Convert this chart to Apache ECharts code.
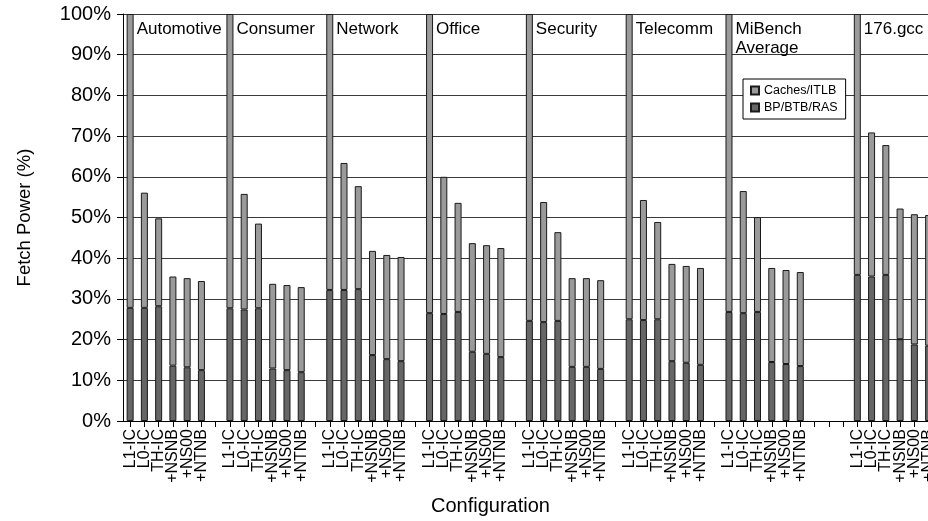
<!DOCTYPE html>
<html>
<head>
<meta charset="utf-8">
<title>Fetch Power by Configuration</title>
<script src="https://cdn.jsdelivr.net/npm/echarts@6/dist/echarts.min.js"></script>
<style>
  html, body { margin: 0; padding: 0; background: #fff; }
  #chart { width: 928px; height: 521px; }
</style>
</head>
<body>
<div id="chart"></div>
<script>
// Benchmark groups and the fetch configurations measured within each one
const groupNames = ['Automotive', 'Consumer', 'Network', 'Office', 'Security', 'Telecomm', 'MiBench\nAverage', '176.gcc'];
const configs = ['L1-IC', 'L0-IC', 'TH-IC', '+NSNB', '+NS00', '+NTNB'];
// empty category slots following each group
const gapsAfter = [1, 1, 1, 1, 1, 1, 3, 1];

// BP/BTB/RAS share of fetch power (%), one row per group
const bpBtbRas = [
  [27.8, 27.8, 28.2, 13.6, 13.2, 12.5],
  [27.7, 27.4, 27.7, 12.9, 12.5, 12.0],
  [32.2, 32.2, 32.4, 16.2, 15.2, 14.7],
  [26.5, 26.3, 26.8, 17.0, 16.5, 15.7],
  [24.6, 24.3, 24.6, 13.3, 13.3, 12.8],
  [25.0, 24.8, 25.0, 14.7, 14.3, 13.8],
  [26.8, 26.5, 26.8, 14.5, 14.0, 13.5],
  [35.9, 35.5, 35.9, 20.1, 18.8, 18.5]
];

// Caches/ITLB share of fetch power (%), stacked on top
const cachesItlb = [
  [72.2, 28.3, 21.6, 21.9, 21.9, 21.9],
  [72.3, 28.4, 20.8, 20.8, 20.9, 20.9],
  [67.8, 31.2, 25.3, 25.6, 25.6, 25.6],
  [73.5, 33.7, 26.8, 26.7, 26.7, 26.8],
  [75.4, 29.5, 21.8, 21.8, 21.8, 21.8],
  [75.0, 29.5, 23.9, 23.9, 23.8, 23.8],
  [73.2, 30.0, 23.3, 23.1, 23.1, 23.1],
  [64.1, 35.4, 31.9, 32.1, 32.0, 32.1]
];

const yTicks = [0, 10, 20, 30, 40, 50, 60, 70, 80, 90, 100];

const FONT = '"Liberation Sans", Arial, Helvetica, sans-serif';

// Flatten groups into one category axis with spacer slots
const categories = [];
const bpData = [];
const cacheData = [];
let gapId = 0;
groupNames.forEach((g, gi) => {
  configs.forEach((c, ci) => {
    categories.push(gi + '|' + c);
    bpData.push(bpBtbRas[gi][ci]);
    if (ci === 0) {
      // group title sits beside the first bar of its group
      cacheData.push({
        value: cachesItlb[gi][ci],
        label: {
          show: true,
          formatter: g,
          position: [10, 6],
          color: '#000',
          fontFamily: FONT,
          fontSize: 17,
          lineHeight: 19
        }
      });
    } else {
      cacheData.push(cachesItlb[gi][ci]);
    }
  });
  for (let k = 0; k < gapsAfter[gi]; k++) {
    categories.push('gap' + (gapId++));
    bpData.push('-');
    cacheData.push('-');
  }
});

const chart = echarts.init(document.getElementById('chart'), null, { renderer: 'canvas' });

chart.setOption({
  animation: false,
  backgroundColor: '#fff',
  textStyle: { fontFamily: FONT },
  // the plot runs on past the right edge of the canvas
  grid: {
    left: 123,
    top: 14,
    height: 407,
    width: 827,
    containLabel: false,
    outerBoundsMode: 'none'
  },
  legend: {
    data: ['Caches/ITLB', 'BP/BTB/RAS'],
    orient: 'vertical',
    left: 743,
    top: 79,
    padding: [5, 8, 5, 7],
    itemGap: 4,
    itemWidth: 8,
    itemHeight: 8,
    icon: 'rect',
    backgroundColor: '#fff',
    borderColor: '#000',
    borderWidth: 1,
    borderRadius: 0,
    textStyle: { fontFamily: FONT, fontSize: 12.5, color: '#000', padding: [0, 0, 0, 0] }
  },
  xAxis: {
    type: 'category',
    data: categories,
    axisLine: { show: true, lineStyle: { color: '#000', width: 1 } },
    axisTick: { show: true, alignWithLabel: true, interval: 0, length: 6, lineStyle: { color: '#000' } },
    axisLabel: {
      interval: 0,
      rotate: 90,
      margin: 8,
      color: '#000',
      fontFamily: FONT,
      fontSize: 16,
      formatter: (v) => v.startsWith('gap') ? '' : v.split('|')[1]
    },
    splitLine: { show: false }
  },
  yAxis: {
    type: 'value',
    min: yTicks[0],
    max: yTicks[yTicks.length - 1],
    interval: yTicks[1] - yTicks[0],
    name: 'Fetch Power (%)',
    nameLocation: 'middle',
    nameGap: 89,
    nameTextStyle: { fontFamily: FONT, fontSize: 18.5, color: '#000' },
    axisLine: { show: true, lineStyle: { color: '#000', width: 1 } },
    axisTick: { show: true, length: 6, lineStyle: { color: '#000' } },
    axisLabel: {
      formatter: '{value}%',
      color: '#000',
      fontFamily: FONT,
      fontSize: 20,
      margin: 12
    },
    splitLine: { show: true, lineStyle: { color: '#3a3a3a', width: 1 } }
  },
  graphic: [
    {
      type: 'text',
      left: 431,
      top: 496,
      style: {
        text: 'Configuration',
        fill: '#000',
        font: '20px ' + FONT
      }
    }
  ],
  series: [
    {
      name: 'BP/BTB/RAS',
      type: 'bar',
      stack: 'power',
      barWidth: 7,
      data: bpData,
      itemStyle: { color: '#666666', borderColor: '#1a1a1a', borderWidth: 1 }
    },
    {
      name: 'Caches/ITLB',
      type: 'bar',
      stack: 'power',
      barWidth: 7,
      data: cacheData,
      itemStyle: { color: '#9a9a9a', borderColor: '#1a1a1a', borderWidth: 1 }
    }
  ]
});
</script>
</body>
</html>
